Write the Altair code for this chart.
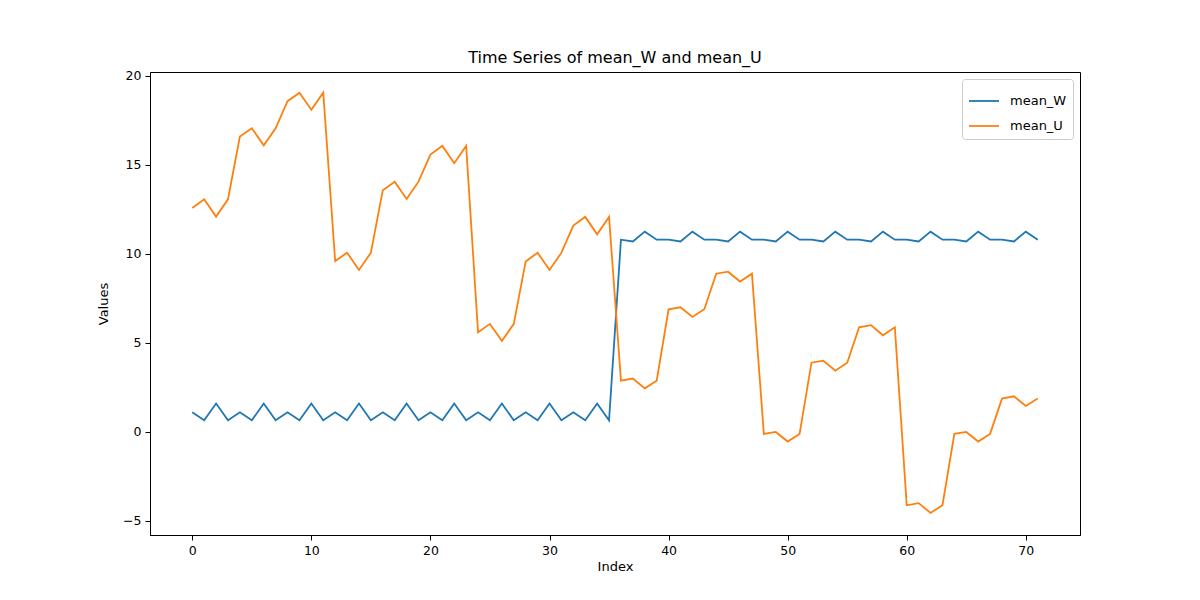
import pandas as pd
import altair as alt

# values
mean_W = [1.1, 0.65, 1.6, 0.65] * 9 + [10.8, 10.7, 11.25, 10.8] * 9
mean_U = [
    12.58, 13.07, 12.1, 13.07, 16.6, 17.06, 16.1, 17.06, 18.58, 19.06, 18.1, 19.06,
    9.6, 10.07, 9.1, 10.07, 13.58, 14.06, 13.09, 14.06, 15.58, 16.07, 15.1, 16.07,
    5.6, 6.07, 5.11, 6.07, 9.58, 10.07, 9.1, 10.07, 11.59, 12.08, 11.1, 12.08,
    2.88, 3.0, 2.45, 2.88, 6.89, 7.0, 6.46, 6.89, 8.89, 9.0, 8.45, 8.89,
    -0.11, 0.0, -0.54, -0.11, 3.89, 4.0, 3.44, 3.89, 5.88, 6.0, 5.43, 5.88,
    -4.12, -4.0, -4.55, -4.12, -0.11, 0.0, -0.54, -0.11, 1.87, 2.0, 1.46, 1.88,
]
series = ["mean_W", "mean_U"]
colors = ["#1f77b4", "#ff7f0e"]

df = pd.concat([
    pd.DataFrame({"Index": range(len(mean_W)), "value": mean_W, "series": "mean_W"}),
    pd.DataFrame({"Index": range(len(mean_U)), "value": mean_U, "series": "mean_U"}),
])

font = "DejaVu Sans"

chart = (
    alt.Chart(df)
    .mark_line(strokeWidth=1.8, clip=True)
    .encode(
        x=alt.X("Index:Q", title="Index",
                scale=alt.Scale(domain=[-3.55, 74.55], nice=False, zero=False),
                axis=alt.Axis(values=list(range(0, 80, 10)), grid=False)),
        y=alt.Y("value:Q", title="Values",
                scale=alt.Scale(domain=[-5.79, 20.22], nice=False, zero=False),
                axis=alt.Axis(values=[-5, 0, 5, 10, 15, 20], grid=False, titlePadding=12)),
        color=alt.Color("series:N", sort=series,
                        scale=alt.Scale(domain=series, range=colors),
                        legend=alt.Legend(title=None, orient="top-right", symbolType="stroke",
                                          symbolStrokeWidth=1.8, symbolSize=900,
                                          strokeColor="#cccccc", fillColor="white",
                                          padding=6, cornerRadius=3, labelFontSize=13,
                                          labelFont=font, offset=7, rowPadding=2,
                                          labelOffset=10)),
        detail="series:N",
    )
    .properties(width=930, height=463, padding={"left": 142, "top": 64, "right": 112, "bottom": 57},
                autosize="none",
                title=alt.Title("Time Series of mean_W and mean_U", fontSize=16,
                                fontWeight="normal", font=font, offset=4))
    .configure_axis(labelFont=font, titleFont=font, labelFontSize=12.5, titleFontSize=13,
                    titleFontWeight="normal", domainColor="black", tickColor="black",
                    labelColor="black", titleColor="black", tickSize=5, labelPadding=4)
    .configure_view(stroke="black", strokeWidth=1)
)

chart.save("out.html", embed_options={"renderer": "svg", "actions": False})
